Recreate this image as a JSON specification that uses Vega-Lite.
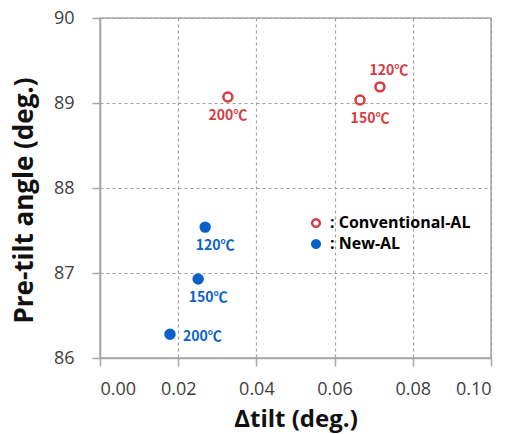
{
  "$schema": "https://vega.github.io/schema/vega-lite/v6.json",
  "width": 391,
  "height": 340,
  "autosize": {"type": "none"},
  "padding": {"left": 100, "top": 18, "right": 19, "bottom": 76},
  "background": "white",
  "config": {
    "font": "Open Sans",
    "view": {"stroke": "#a6a6a6", "strokeWidth": 1.5},
    "axis": {
      "domainColor": "#a6a6a6",
      "domainWidth": 1.5,
      "tickColor": "#a6a6a6",
      "tickWidth": 1.5,
      "tickSize": 8,
      "gridColor": "#a0a0a0",
      "gridDash": [3, 3],
      "gridWidth": 1.2,
      "labelFont": "Open Sans",
      "labelFontSize": 18,
      "labelColor": "#404040",
      "titleFont": "Open Sans",
      "titleFontWeight": "bold",
      "titleColor": "#111111"
    }
  },
  "data": {
    "values": [
      {"series": "Conventional-AL", "temp": "120℃", "dtilt": 0.0716, "pretilt": 89.19},
      {"series": "Conventional-AL", "temp": "150℃", "dtilt": 0.0665, "pretilt": 89.035},
      {"series": "Conventional-AL", "temp": "200℃", "dtilt": 0.0327, "pretilt": 89.07},
      {"series": "New-AL", "temp": "120℃", "dtilt": 0.0269, "pretilt": 87.54},
      {"series": "New-AL", "temp": "150℃", "dtilt": 0.0251, "pretilt": 86.93},
      {"series": "New-AL", "temp": "200℃", "dtilt": 0.0179, "pretilt": 86.28}
    ]
  },
  "encoding": {
    "x": {
      "field": "dtilt",
      "type": "quantitative",
      "title": "Δtilt (deg.)",
      "scale": {"domain": [0, 0.1], "nice": false, "zero": false},
      "axis": {
        "values": [0, 0.02, 0.04, 0.06, 0.08, 0.1],
        "format": ".2f",
        "labelPadding": 14,
        "titlePadding": 9,
        "titleFontSize": 24
      }
    },
    "y": {
      "field": "pretilt",
      "type": "quantitative",
      "title": "Pre-tilt angle (deg.)",
      "scale": {"domain": [86, 90], "nice": false, "zero": false},
      "axis": {
        "values": [86, 87, 88, 89, 90],
        "labelPadding": 18,
        "titlePadding": 16,
        "titleFontSize": 26,
        "titleY": 182,
        "titleAlign": "center",
        "titleAngle": 270
      }
    }
  },
  "layer": [
    {
      "mark": {"type": "point", "shape": "circle", "size": 80, "strokeWidth": 2.5, "opacity": 1},
      "encoding": {
        "stroke": {
          "field": "series",
          "type": "nominal",
          "scale": {"domain": ["Conventional-AL", "New-AL"], "range": ["#d63b3f", "#0a62c9"]},
          "legend": {
            "title": null,
            "orient": "none",
            "legendX": 208,
            "legendY": 197,
            "padding": 0,
            "rowPadding": 3,
            "symbolSize": 60,
            "symbolStrokeWidth": 2.5,
            "labelFontSize": 16,
            "labelFontWeight": "bold",
            "labelFont": "Open Sans",
            "labelOffset": 6,
            "labelExpr": "': ' + datum.label",
            "encode": {
              "labels": {
                "update": {
                  "fill": {"signal": "datum.value === 'New-AL' ? '#0a62c9' : '#d63b3f'"}
                }
              }
            }
          }
        },
        "fill": {
          "field": "series",
          "type": "nominal",
          "scale": {"domain": ["Conventional-AL", "New-AL"], "range": ["#ffffff", "#0a62c9"]},
          "legend": {
            "title": null,
            "orient": "none",
            "legendX": 208,
            "legendY": 197,
            "padding": 0,
            "rowPadding": 3,
            "symbolSize": 60,
            "symbolStrokeWidth": 2.5,
            "labelFontSize": 16,
            "labelFontWeight": "bold",
            "labelFont": "Open Sans",
            "labelOffset": 6,
            "labelExpr": "': ' + datum.label",
            "encode": {
              "labels": {
                "update": {
                  "fill": {"signal": "datum.value === 'New-AL' ? '#0a62c9' : '#d63b3f'"}
                }
              }
            }
          }
        }
      }
    },
    {
      "transform": [{"filter": "datum.series === 'Conventional-AL' && datum.temp === '200℃'"}],
      "mark": {"type": "text", "font": "Noto Sans CJK KR", "fontSize": 14, "fontWeight": "bold", "baseline": "middle", "align": "center", "dx": 0, "dy": 19},
      "encoding": {
        "text": {"field": "temp"},
        "color": {"value": "#d63b3f"}
      }
    },
    {
      "transform": [{"filter": "(datum.series === 'Conventional-AL' && datum.temp === '150℃') || (datum.series === 'New-AL' && datum.temp !== '200℃')"}],
      "mark": {"type": "text", "font": "Noto Sans CJK KR", "fontSize": 14, "fontWeight": "bold", "baseline": "middle", "align": "center", "dx": 10, "dy": 19},
      "encoding": {
        "text": {"field": "temp"},
        "color": {"condition": {"test": "datum.series === 'New-AL'", "value": "#0a62c9"}, "value": "#d63b3f"}
      }
    },
    {
      "transform": [{"filter": "datum.series === 'Conventional-AL' && datum.temp === '120℃'"}],
      "mark": {"type": "text", "font": "Noto Sans CJK KR", "fontSize": 14, "fontWeight": "bold", "baseline": "middle", "align": "center", "dx": 9, "dy": -16},
      "encoding": {
        "text": {"field": "temp"},
        "color": {"value": "#d63b3f"}
      }
    },
    {
      "transform": [{"filter": "datum.series === 'New-AL' && datum.temp === '200℃'"}],
      "mark": {"type": "text", "font": "Noto Sans CJK KR", "fontSize": 14, "fontWeight": "bold", "baseline": "middle", "align": "left", "dx": 13, "dy": 3},
      "encoding": {
        "text": {"field": "temp"},
        "color": {"value": "#0a62c9"}
      }
    }
  ]
}
